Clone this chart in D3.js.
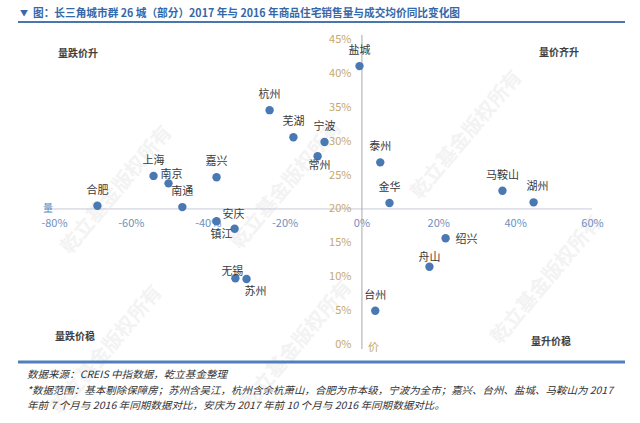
<!DOCTYPE html>
<html>
<head>
<meta charset="utf-8">
<script src="https://cdn.jsdelivr.net/npm/d3@7/dist/d3.min.js"></script>
<style>
  html, body { margin: 0; padding: 0; background: #ffffff; }
  svg { display: block; }
  text { font-family: "Noto Sans CJK SC", "Noto Sans", sans-serif; }
</style>
</head>
<body>
<svg id="chart" width="640" height="423"></svg>
<script>
// ---- data ----
const cities = ["盐城","杭州","芜湖","宁波","常州","泰州","上海","南京","嘉兴","合肥","南通","安庆","镇江","无锡","苏州","金华","马鞍山","湖州","绍兴","舟山","台州"];
const volumeChange = [-0.5,-23.9,-17.7,-9.6,-11.4,4.9,-54.1,-50.2,-37.7,-68.7,-46.6,-37.7,-33.0,-32.8,-29.9,7.3,36.7,44.8,21.9,17.7,3.6];
const priceChange  = [41.0,34.5,30.5,29.8,27.7,26.8,24.8,23.7,24.6,20.4,20.2,18.1,17.0,9.7,9.6,20.8,22.6,20.9,15.6,11.4,4.9];
const labelPlace   = ["top","top","top","top","bottom","top","top","topright","top","top","top","upright","leftdown","upleft","downright","top","top","topR","right","topnear","top"];
const xTicks = [-80,-60,-40,-20,0,20,40,60];
const yTicks = [0,5,10,15,20,25,30,35,40,45];
const title = "图：长三角城市群 26 城（部分）2017 年与 2016 年商品住宅销售量与成交均价同比变化图";
const quadrants = ["量跌价升","量价齐升","量跌价稳","量升价稳"];
const footer = [
  "数据来源：CREIS 中指数据，乾立基金整理",
  "*数据范围：基本剔除保障房；苏州含吴江，杭州含余杭萧山，合肥为市本级，宁波为全市；嘉兴、台州、盐城、马鞍山为 2017",
  "年前 7 个月与 2016 年同期数据对比，安庆为 2017 年前 10 个月与 2016 年同期数据对比。"
];
const watermark = "乾立基金版权所有";

// ---- layout ----
const svg = d3.select("#chart");
const x = d3.scaleLinear().domain([-80, 60]).range([54, 592]);
const y = d3.scaleLinear().domain([0, 45]).range([344, 39]);
const xCross = 20; // horizontal axis crosses at price 20%
const yCross = 0;  // vertical axis crosses at volume 0%

const offsets = {
  top: [0, -17], bottom: [2, 8], topright: [3, -10], upright: [17, -8],
  leftdown: [-13, 4], upleft: [-3, -8], downright: [9, 11], topR: [4, -17],
  right: [21, 0], topnear: [0, -11]
};

// faint watermarks (kept inside the frame)
const wm = [[70, 255], [240, 250], [420, 200], [500, 345], [250, 410], [60, 415]];
svg.append("g").selectAll("text").data(wm).join("text")
  .attr("transform", d => `translate(${d[0]},${d[1]}) rotate(-50)`)
  .attr("font-size", 20).attr("fill", "#f3f3f3").attr("font-weight", "bold")
  .text(watermark);

// title
svg.append("text").attr("x", 20).attr("y", 12).attr("dominant-baseline", "central")
  .attr("font-size", 8).attr("fill", "#3a66a5").text("▼");
svg.append("text").attr("x", 33).attr("y", 12).attr("dominant-baseline", "central")
  .attr("font-size", 11).attr("font-weight", "bold").attr("fill", "#3568a8")
  .attr("textLength", 427).attr("lengthAdjust", "spacingAndGlyphs").text(title);
svg.append("line").attr("x1", 18).attr("x2", 625).attr("y1", 22).attr("y2", 22)
  .attr("stroke", "#4a76b0").attr("stroke-width", 2);

// bottom rule
svg.append("line").attr("x1", 18).attr("x2", 625).attr("y1", 362).attr("y2", 362)
  .attr("stroke", "#4f80bd").attr("stroke-width", 3);

// x axis
const xAxis = svg.append("g").attr("transform", `translate(0,${y(xCross)})`)
  .call(d3.axisBottom(x).tickValues(xTicks).tickSize(0).tickPadding(11).tickFormat(d => d + "%"));
xAxis.select(".domain").attr("stroke", "#c9c9d9").attr("stroke-width", 1)
  .attr("d", `M${x(-80) - 4},0.5H${x(60)}`);
xAxis.selectAll("text").attr("font-size", 11).attr("fill", "#6f90c0")
  .attr("font-family", "'Noto Sans', sans-serif");

// y axis
const yAxis = svg.append("g").attr("transform", `translate(${x(yCross)},0)`)
  .call(d3.axisLeft(y).tickValues(yTicks).tickSize(0).tickPadding(10).tickFormat(d => d + "%"));
yAxis.select(".domain").attr("stroke", "#a8a8a8").attr("stroke-width", 1)
  .attr("d", `M0.5,${y(45) - 4}V${y(0) + 5}`);
yAxis.selectAll("text").attr("font-size", 11).attr("fill", "#c4a86c")
  .attr("font-family", "'Noto Sans', sans-serif");

// axis names
svg.append("text").attr("x", x(-80) - 6).attr("y", y(xCross) - 1).attr("text-anchor", "middle")
  .attr("dominant-baseline", "central").attr("font-size", 10).attr("fill", "#5d86c0").text("量");
svg.append("text").attr("x", x(yCross) + 12).attr("y", y(0) + 2).attr("text-anchor", "middle")
  .attr("dominant-baseline", "central").attr("font-size", 11).attr("fill", "#c4a86c").text("价");

// quadrant labels
const qpos = [[78, 52], [559, 51], [75, 335], [551, 340]];
svg.append("g").selectAll("text").data(quadrants).join("text")
  .attr("x", (d, i) => qpos[i][0]).attr("y", (d, i) => qpos[i][1])
  .attr("text-anchor", "middle").attr("dominant-baseline", "central")
  .attr("font-size", 10).attr("font-weight", "bold").attr("fill", "#404040").text(d => d);

// points
const data = cities.map((c, i) => ({ c, vx: volumeChange[i], vy: priceChange[i], p: labelPlace[i] }));
svg.append("g").selectAll("circle").data(data).join("circle")
  .attr("cx", d => x(d.vx)).attr("cy", d => y(d.vy)).attr("r", 4.2)
  .attr("fill", "#4a78b3");

svg.append("g").selectAll("text").data(data).join("text")
  .attr("x", d => x(d.vx) + offsets[d.p][0]).attr("y", d => y(d.vy) + offsets[d.p][1])
  .attr("text-anchor", "middle").attr("dominant-baseline", "central")
  .attr("font-size", 11).attr("fill", "#3a3a3a").text(d => d.c);

// footer
const fy = [373, 389, 404];
const fw = [200, 586, 418];
svg.append("g").selectAll("text").data(footer).join("text")
  .attr("x", 27).attr("y", (d, i) => fy[i]).attr("dominant-baseline", "central")
  .attr("font-size", 10).attr("font-style", "italic").attr("fill", "#333333")
  .attr("textLength", (d, i) => fw[i]).attr("lengthAdjust", "spacingAndGlyphs")
  .text(d => d);
</script>
</body>
</html>
